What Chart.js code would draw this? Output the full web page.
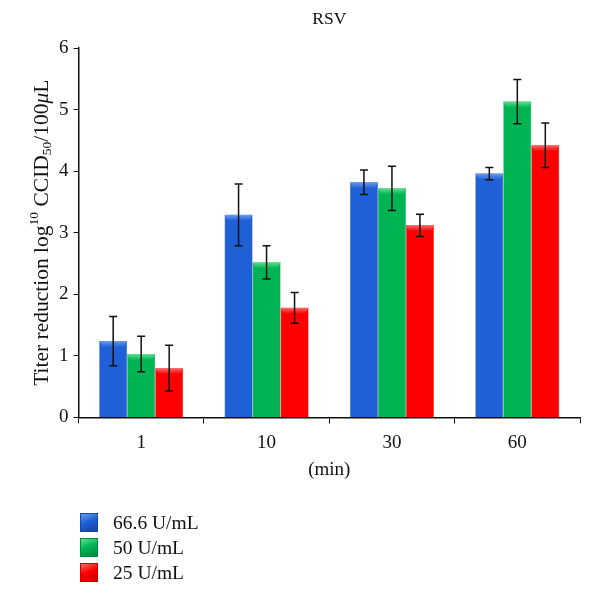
<!DOCTYPE html>
<html lang="en">
<head>
    <meta charset="UTF-8">
    <title>RSV</title>
    <script src="https://cdn.jsdelivr.net/npm/chart.js"></script>
    <style>
        body {
            margin: 0;
            background: #fff;
            font-family: "Liberation Serif", serif;
        }
        .wrap {
            position: relative;
            width: 600px;
            height: 606px;
        }
        #legend {
            position: absolute;
            left: 80px;
            top: 510px;
        }
        .item {
            display: flex;
            align-items: center;
            height: 25px;
            font-size: 19.5px;
            color: #111;
        }
        .swatch {
            width: 18px;
            height: 19px;
            margin-right: 15px;
            box-sizing: border-box;
        }
    </style>
</head>
<body>

    <div class="wrap">
        <canvas id="chart" width="600" height="606"></canvas>
        <div id="legend"></div>
    </div>

    <script>
        const categories = ['1', '10', '30', '60'];
        const seriesNames = ['66.6 U/mL', '50 U/mL', '25 U/mL'];
        const conc666 = [1.24, 3.29, 3.82, 3.96];
        const conc50 = [1.03, 2.52, 3.72, 5.13];
        const conc25 = [0.80, 1.78, 3.12, 4.42];
        const err666 = [0.40, 0.50, 0.20, 0.10];
        const err50 = [0.29, 0.27, 0.36, 0.36];
        const err25 = [0.37, 0.25, 0.18, 0.36];
        const yTicks = [0, 1, 2, 3, 4, 5, 6];

        const colors = [
            { base: '#1f60d6', dark: '#1646a8', light: '#6a9bf0' },
            { base: '#00b454', dark: '#008a3c', light: '#5fe28f' },
            { base: '#fe0000', dark: '#c80000', light: '#ff6a6a' }
        ];

        // bar fill: darker edges left and right
        function barFill(c) {
            return function (ctx) {
                const el = ctx.element;
                if (!el || el.width === undefined) return c.base;
                const g = ctx.chart.ctx.createLinearGradient(el.x - el.width / 2, 0, el.x + el.width / 2, 0);
                g.addColorStop(0, c.dark);
                g.addColorStop(0.12, c.base);
                g.addColorStop(0.88, c.base);
                g.addColorStop(1, c.dark);
                return g;
            };
        }

        const font = { family: '"Liberation Serif", serif', size: 19 };

        // top bevel of each bar
        const bevel = {
            id: 'bevel',
            afterDatasetsDraw(chart) {
                const ctx = chart.ctx;
                chart.data.datasets.forEach((ds, i) => {
                    chart.getDatasetMeta(i).data.forEach(bar => {
                        const l = bar.x - bar.width / 2, r = bar.x + bar.width / 2, t = bar.y;
                        const g = ctx.createLinearGradient(0, t, 0, t + 6);
                        g.addColorStop(0, colors[i].light);
                        g.addColorStop(1, colors[i].base);
                        ctx.save();
                        ctx.fillStyle = g;
                        ctx.beginPath();
                        ctx.moveTo(l, t);
                        ctx.lineTo(r, t);
                        ctx.lineTo(r - 3, t + 6);
                        ctx.lineTo(l + 3, t + 6);
                        ctx.closePath();
                        ctx.fill();
                        ctx.restore();
                    });
                });
            }
        };

        // error bars from the err arrays
        const errorBars = {
            id: 'errorBars',
            afterDatasetsDraw(chart) {
                const ctx = chart.ctx;
                const y = chart.scales.y;
                chart.data.datasets.forEach((ds, i) => {
                    chart.getDatasetMeta(i).data.forEach((bar, j) => {
                        const v = ds.data[j], e = ds.errors[j];
                        const top = y.getPixelForValue(v + e);
                        const bot = y.getPixelForValue(v - e);
                        ctx.save();
                        ctx.strokeStyle = '#111';
                        ctx.lineWidth = 1.5;
                        ctx.beginPath();
                        ctx.moveTo(bar.x, top);
                        ctx.lineTo(bar.x, bot);
                        ctx.moveTo(bar.x - 4, top);
                        ctx.lineTo(bar.x + 4, top);
                        ctx.moveTo(bar.x - 4, bot);
                        ctx.lineTo(bar.x + 4, bot);
                        ctx.stroke();
                        ctx.restore();
                    });
                });
            }
        };

        // y axis title with superscript / subscript
        const yTitle = {
            id: 'yTitle',
            afterDraw(chart) {
                const ctx = chart.ctx;
                const area = chart.chartArea;
                const parts = [
                    { t: 'Titer reduction log', s: 21.5, dy: 0 },
                    { t: '10', s: 13.5, dy: -8 },
                    { t: ' CCID', s: 21.5, dy: 0 },
                    { t: '50', s: 13.5, dy: 5 },
                    { t: '/100', s: 21.5, dy: 0 },
                    { t: 'μ', s: 21.5, dy: 0, it: true },
                    { t: 'L', s: 21.5, dy: 0 }
                ];
                ctx.save();
                let w = 0;
                parts.forEach(p => {
                    ctx.font = (p.it ? 'italic ' : '') + p.s + 'px "Liberation Serif", serif';
                    p.w = ctx.measureText(p.t).width;
                    w += p.w;
                });
                ctx.translate(42, (area.top + area.bottom) / 2);
                ctx.rotate(-Math.PI / 2);
                ctx.fillStyle = '#111';
                ctx.textBaseline = 'middle';
                let x = -w / 2;
                parts.forEach(p => {
                    ctx.font = (p.it ? 'italic ' : '') + p.s + 'px "Liberation Serif", serif';
                    ctx.fillText(p.t, x, p.dy);
                    x += p.w;
                });
                ctx.restore();
            }
        };

        const values = [conc666, conc50, conc25];
        const errors = [err666, err50, err25];

        new Chart(document.getElementById('chart'), {
            type: 'bar',
            data: {
                labels: categories,
                datasets: seriesNames.map((name, i) => ({
                    label: name,
                    data: values[i],
                    errors: errors[i],
                    backgroundColor: barFill(colors[i]),
                    borderColor: colors[i].dark,
                    borderWidth: 0.5,
                    barPercentage: 1,
                    categoryPercentage: 0.67
                }))
            },
            options: {
                responsive: false,
                animation: false,
                layout: { padding: { left: 54, right: 20, top: 4, bottom: 121 } },
                plugins: {
                    legend: { display: false },
                    tooltip: { enabled: false },
                    title: {
                        display: true,
                        text: 'RSV',
                        fullSize: false,
                        color: '#111',
                        font: { family: font.family, size: 17.5, weight: 'normal' },
                        padding: { top: 5, bottom: 18 }
                    }
                },
                scales: {
                    x: {
                        grid: { display: true, drawOnChartArea: false, offset: true, color: '#111', tickLength: 6 },
                        border: { color: '#111', width: 1.5 },
                        ticks: { color: '#111', font: font, padding: 8 },
                        title: { display: true, text: '(min)', color: '#111', font: font, padding: { top: -4 } }
                    },
                    y: {
                        min: 0,
                        max: 6,
                        afterBuildTicks(axis) { axis.ticks = yTicks.map(v => ({ value: v })); },
                        grid: { display: true, drawOnChartArea: false, color: '#111', tickLength: 5 },
                        border: { color: '#111', width: 1.5 },
                        ticks: { color: '#111', font: font, padding: 5 }
                    }
                }
            },
            plugins: [bevel, errorBars, yTitle]
        });

        // legend
        const legend = document.getElementById('legend');
        seriesNames.forEach((name, i) => {
            const c = colors[i];
            const item = document.createElement('div');
            item.className = 'item';
            const sw = document.createElement('div');
            sw.className = 'swatch';
            sw.style.background = 'linear-gradient(160deg, ' + c.light + ' 0%, ' + c.base + ' 45%, ' + c.dark + ' 100%)';
            sw.style.border = '1px solid ' + c.dark;
            const label = document.createElement('span');
            label.textContent = name;
            item.appendChild(sw);
            item.appendChild(label);
            legend.appendChild(item);
        });
    </script>

</body>
</html>
